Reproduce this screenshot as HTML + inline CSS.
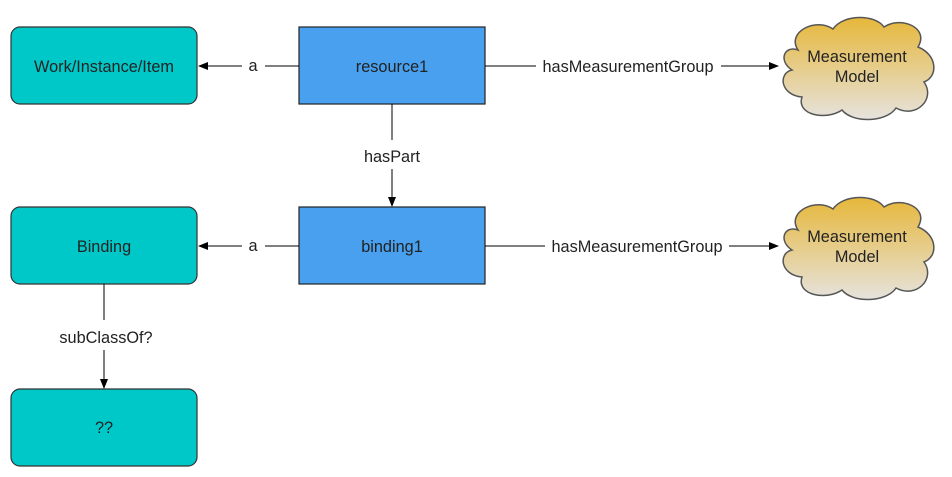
<!DOCTYPE html>
<html><head><style>
html,body{margin:0;padding:0;background:#fff;}
svg{display:block;}
text{font-family:"Liberation Sans",sans-serif;font-size:16.3px;fill:#222;}
</style></head><body>
<svg width="952" height="477" viewBox="0 0 952 477" xmlns="http://www.w3.org/2000/svg">
<defs>
<linearGradient id="g" x1="0" y1="0" x2="0" y2="1">
<stop offset="0" stop-color="#e6b73a"/><stop offset="1" stop-color="#e6e3de"/>
</linearGradient>
<marker id="ar" markerWidth="10" markerHeight="8" refX="9" refY="4" orient="auto" markerUnits="userSpaceOnUse">
<path d="M0,0 L10,4 L0,8 Z" fill="#000"/>
</marker>
<path id="cloud" d="M20,33 C8,15 38,0 55,12 C65,-3 97,-3 106,10 C122,-1 152,10 140,30 C160,38 160,60 146,65 C158,82 138,102 118,91 C108,106 74,106 64,93 C48,104 18,98 24,80 C2,78 0,56 14,53 C0,44 6,28 20,33 Z"/>
</defs>

<g stroke="#333" stroke-width="1.2" fill="#00c8c8">
<rect x="11" y="27" width="186" height="77" rx="9"/>
<rect x="11" y="207" width="186" height="77" rx="9"/>
<rect x="11" y="389" width="186" height="77" rx="9"/>
</g>
<g stroke="#222" stroke-width="1.2" fill="#48a0ee">
<rect x="299" y="27" width="186" height="77"/>
<rect x="299" y="207" width="186" height="77"/>
</g>
<g stroke="#555" stroke-width="1.5" fill="url(#g)">
<use href="#cloud" transform="translate(778,17)"/>
<use href="#cloud" transform="translate(778,197)"/>
</g>

<g stroke="#000" stroke-width="1" fill="none">
<line x1="299" y1="66" x2="265" y2="66"/>
<line x1="242" y1="66" x2="199" y2="66" marker-end="url(#ar)"/>
<line x1="299" y1="246" x2="265" y2="246"/>
<line x1="242" y1="246" x2="199" y2="246" marker-end="url(#ar)"/>
<line x1="485" y1="66" x2="536" y2="66"/>
<line x1="721" y1="66" x2="778" y2="66" marker-end="url(#ar)"/>
<line x1="485" y1="246" x2="545" y2="246"/>
<line x1="729" y1="246" x2="778" y2="246" marker-end="url(#ar)"/>
<line x1="392" y1="104" x2="392" y2="140"/>
<line x1="392" y1="169" x2="392" y2="206" marker-end="url(#ar)"/>
<line x1="104" y1="284" x2="104" y2="320"/>
<line x1="104" y1="350" x2="104" y2="388" marker-end="url(#ar)"/>
</g>

<g text-anchor="middle">
<text x="104" y="72">Work/Instance/Item</text>
<text x="392" y="72">resource1</text>
<text x="104" y="252">Binding</text>
<text x="392" y="252">binding1</text>
<text x="104" y="433">??</text>
<text x="253" y="71">a</text>
<text x="253" y="251">a</text>
<text x="628" y="72">hasMeasurementGroup</text>
<text x="637" y="252">hasMeasurementGroup</text>
<text x="392" y="162">hasPart</text>
<text x="106" y="343">subClassOf?</text>
<text x="857" y="62">Measurement</text>
<text x="857" y="82">Model</text>
<text x="857" y="242">Measurement</text>
<text x="857" y="262">Model</text>
</g>
</svg>
</body></html>
